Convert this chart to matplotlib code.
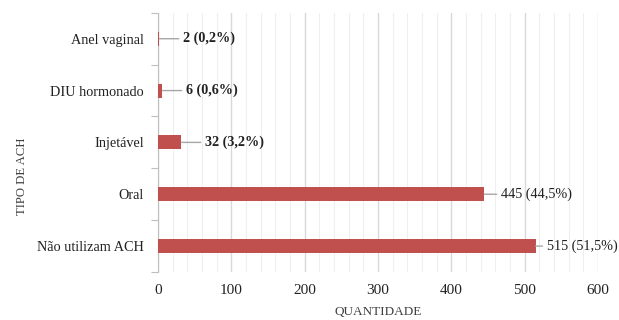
import matplotlib
matplotlib.use("Agg")
import matplotlib.pyplot as plt
from matplotlib.ticker import MultipleLocator

categories = ["Não utilizam ACH", "Oral", "Injetável", "DIU hormonado", "Anel vaginal"]
values = [515, 445, 32, 6, 2]
percents = ["51,5%", "44,5%", "3,2%", "0,6%", "0,2%"]
xticks = [0, 100, 200, 300, 400, 500, 600]

plt.rcParams["font.family"] = ["Liberation Serif", "DejaVu Serif"]

fig = plt.figure(figsize=(6.19, 3.2), dpi=100)
ax = fig.add_axes([0.255, 0.15, 0.711, 0.81])

bar_color = "#C0504D"
ypos = list(range(len(categories)))
ax.barh(ypos, values, height=0.27, color=bar_color, zorder=3)

ax.set_xlim(0, 600)
ax.set_ylim(-0.5, len(categories) - 0.5)
ax.set_xticks(xticks)
ax.xaxis.set_minor_locator(MultipleLocator(20))
ax.grid(axis="x", which="major", color="#d9d9d9", linewidth=1.0, zorder=0)
ax.grid(axis="x", which="minor", color="#efefef", linewidth=0.8, zorder=0)
ax.tick_params(axis="x", which="both", length=0, labelsize=11, colors="#222222", pad=9)

# category labels placed at bar centres, tick marks at category boundaries
ax.set_yticks(ypos)
ax.set_yticklabels(categories)
ax.tick_params(axis="y", which="major", length=0, labelsize=10.3, colors="#222222", pad=10)
ax.set_yticks([i - 0.5 for i in range(len(categories) + 1)], minor=True)
ax.tick_params(axis="y", which="minor", length=5, color="#bfbfbf", width=0.8)

for side in ["top", "right", "bottom"]:
    ax.spines[side].set_visible(False)
ax.spines["left"].set_color("#bfbfbf")
ax.spines["left"].set_linewidth(0.8)

# value labels with leader lines
for y, v, p in zip(ypos, values, percents):
    if v > 480:
        gap = 8
    elif v > 100:
        gap = 12
    else:
        gap = 17
    ax.annotate("", xy=(v, y), xytext=(gap - 3, 0), textcoords="offset points",
                arrowprops=dict(arrowstyle="-", color="#a6a6a6", lw=1.0,
                                shrinkA=0, shrinkB=0), zorder=4)
    weight = "normal" if v > 100 else "bold"
    ax.annotate(f"{v} ({p})", xy=(v, y), xytext=(gap, 0), textcoords="offset points",
                va="center", ha="left", fontsize=10.2, color="#222222", weight=weight,
                annotation_clip=False)

ax.set_xlabel("QUANTIDADE", fontsize=9.5, color="#404040", labelpad=6)
ax.set_ylabel("TIPO DE ACH", fontsize=9.2, color="#404040")
ax.yaxis.set_label_coords(-0.294, 0.37)

fig.savefig("out.png", dpi=100)
